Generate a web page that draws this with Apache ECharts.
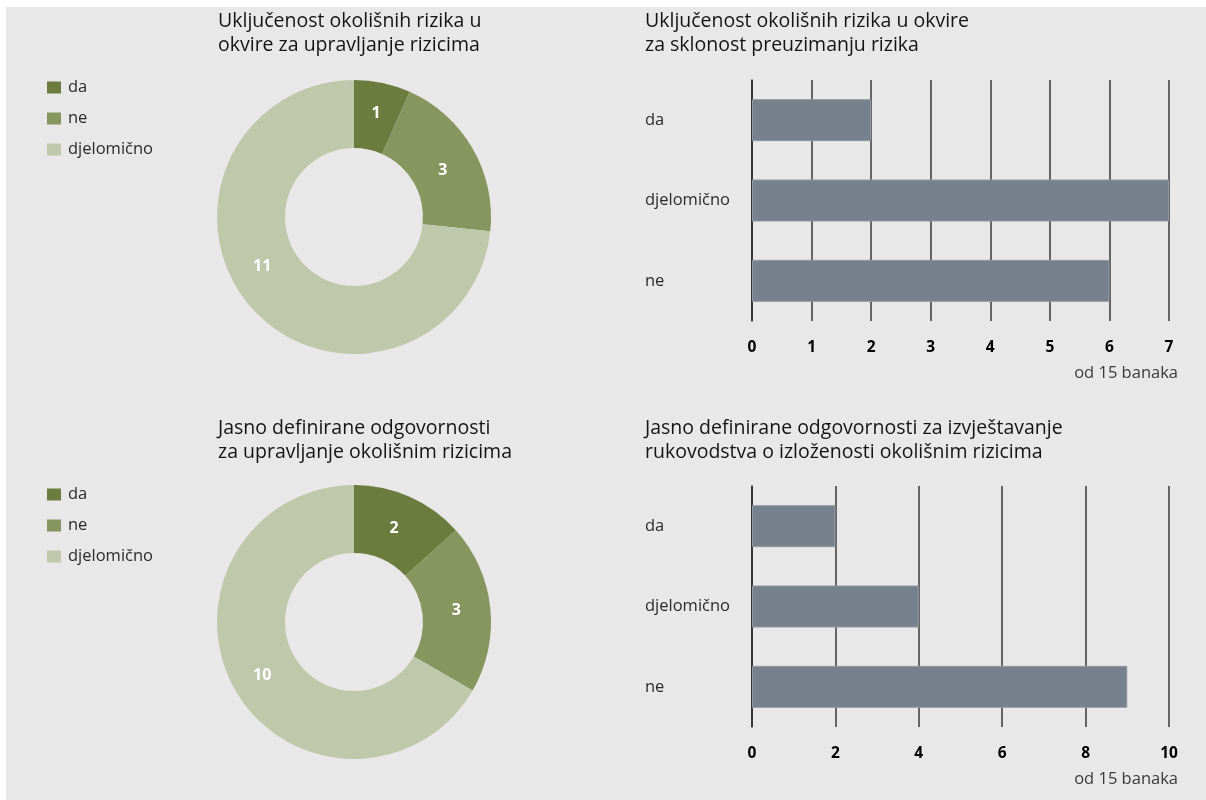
<!DOCTYPE html>
<html><head><meta charset="utf-8">
<script src="https://cdn.jsdelivr.net/npm/echarts@6/dist/echarts.min.js"></script>
<style>html,body{margin:0;padding:0;background:#fff}#c{width:1206px;height:800px}</style>
</head><body><div id="c"></div>
<script>
const pieCategories = ['da', 'ne', 'djelomično'];
const pie1Values = [1, 3, 11];
const pie2Values = [2, 3, 10];
const barCategories = ['da', 'djelomično', 'ne'];
const bar1Values = [2, 7, 6];
const bar2Values = [2, 4, 9];
const bar1Ticks = [0, 1, 2, 3, 4, 5, 6, 7];
const bar2Ticks = [0, 2, 4, 6, 8, 10];
const titles = [
  'Uključenost okolišnih rizika u\nokvire za upravljanje rizicima',
  'Uključenost okolišnih rizika u okvire\nza sklonost preuzimanju rizika',
  'Jasno definirane odgovornosti\nza upravljanje okolišnim rizicima',
  'Jasno definirane odgovornosti za izvještavanje\nrukovodstva o izloženosti okolišnim rizicima'
];
const unitNote = 'od 15 banaka';

const pieColors = ['#6b7c3e', '#87955f', '#bfc8aa'];
const barColor = '#77818e';
const FONT = '"Open Sans", "Noto Sans", sans-serif';

const chart = echarts.init(document.getElementById('c'), null, {renderer: 'canvas'});

function titleObj(text, left, top) {
  return {text: text, left: left, top: top, padding: 0,
    textStyle: {fontFamily: FONT, fontSize: 19.5, fontWeight: 'normal', color: '#141414', lineHeight: 24}};
}
function noteObj(top) {
  return {text: unitNote, right: 28, top: top, padding: 0,
    textStyle: {fontFamily: FONT, fontSize: 16.5, fontWeight: 'normal', color: '#3a3a3a'}};
}
function legendObj(top) {
  return {data: pieCategories, orient: 'vertical', left: 42, top: top, itemWidth: 14, itemHeight: 12,
    itemGap: 14, icon: 'rect', selectedMode: false,
    textStyle: {fontFamily: FONT, fontSize: 16.5, color: '#2a2a2a', padding: [0, 0, 0, 2]}};
}
function pieSeries(values, cy, labelOffsets) {
  return {type: 'pie', center: [354, cy], radius: [69, 137], startAngle: 90, clockwise: true,
    avoidLabelOverlap: false, emphasis: {disabled: true}, silent: true,
    label: {show: true, position: 'inside', formatter: '{c}', color: '#fff', fontFamily: FONT,
      fontSize: 16, fontWeight: 'bold'},
    labelLine: {show: false},
    data: pieCategories.map((n, i) => ({name: n, value: values[i], itemStyle: {color: pieColors[i]},
      label: {offset: labelOffsets[i]}}))};
}
function xAxisObj(idx, ticks) {
  return {type: 'value', gridIndex: idx, min: ticks[0], max: ticks[ticks.length - 1],
    interval: ticks[1] - ticks[0],
    axisLine: {show: false}, axisTick: {show: false},
    splitLine: {show: true, lineStyle: {color: '#3a3a3a', width: 1.5}},
    axisLabel: {margin: 19, color: '#000', fontFamily: FONT, fontSize: 15.5, fontWeight: 'bold'}};
}
function yAxisObj(idx) {
  return {type: 'category', gridIndex: idx, data: barCategories, inverse: true,
    axisLine: {show: true, lineStyle: {color: '#2a2a2a', width: 1.5}}, axisTick: {show: false},
    axisLabel: {align: 'left', margin: 107, color: '#2a2a2a', fontFamily: FONT, fontSize: 16.5}};
}
function barSeries(idx, values) {
  return {type: 'bar', xAxisIndex: idx, yAxisIndex: idx, data: values, barWidth: 42, silent: true,
    itemStyle: {color: barColor, borderColor: '#8f98a3', borderWidth: 1}, z: 3};
}

chart.setOption({
  backgroundColor: '#ffffff',
  animation: false,
  graphic: [{type: 'rect', shape: {x: 6, y: 7, width: 1200, height: 793}, style: {fill: '#e8e8e8'}, z: -100, silent: true}],
  title: [
    titleObj(titles[0], 218, 9),
    titleObj(titles[1], 645, 9),
    titleObj(titles[2], 218, 416),
    titleObj(titles[3], 645, 416),
    noteObj(365),
    noteObj(771)
  ],
  legend: [legendObj(74), legendObj(481)],
  grid: [
    {left: 752, right: 37, top: 80, height: 241},
    {left: 752, right: 37, top: 486, height: 241}
  ],
  xAxis: [xAxisObj(0, bar1Ticks), xAxisObj(1, bar2Ticks)],
  yAxis: [yAxisObj(0), yAxisObj(1)],
  series: [
    pieSeries(pie1Values, 217, [[0, 0], [-3, 6], [-13, -21]]),
    pieSeries(pie2Values, 622, [[-3, 3], [-3, 0], [0, 0]]),
    barSeries(0, bar1Values),
    barSeries(1, bar2Values)
  ]
});
</script></body></html>
